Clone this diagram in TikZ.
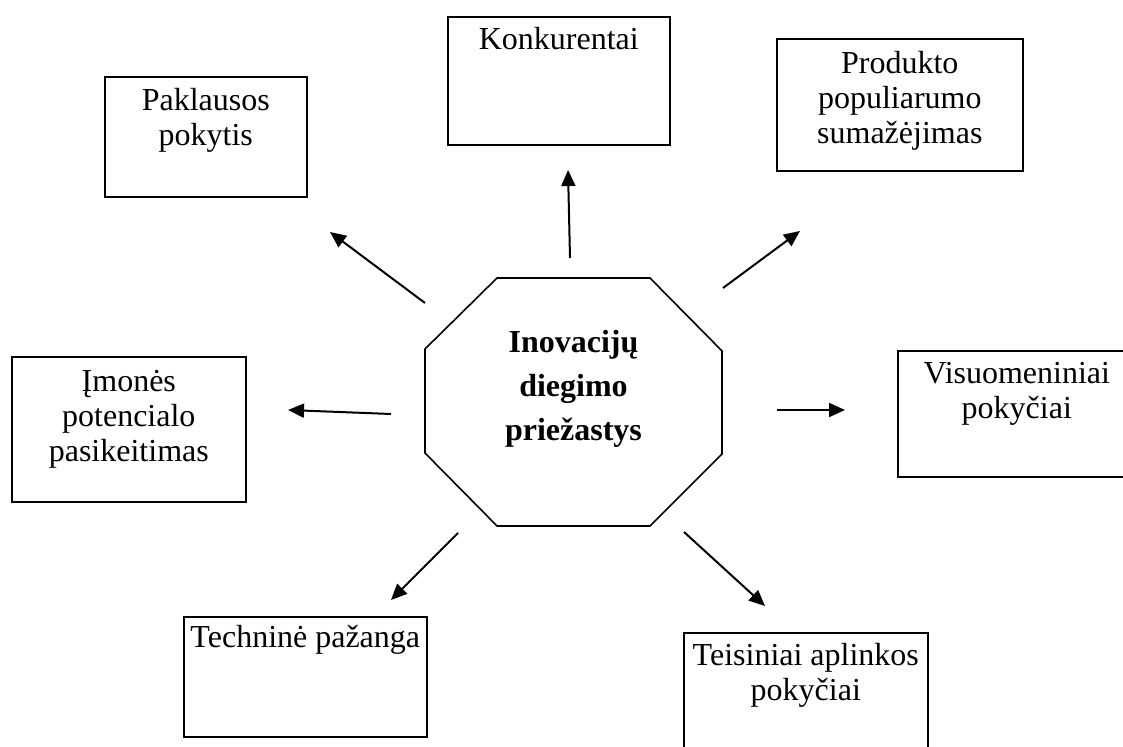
\documentclass[tikz,border=0pt]{standalone}
\usepackage{fontspec}
\setmainfont{Liberation Serif}
\usetikzlibrary{arrows.meta}

\tikzset{
  box/.style={draw, line width=0.8pt, anchor=north west, inner sep=0pt},
  boxtext/.style={anchor=north, inner sep=0pt, align=center, font=\fontsize{16}{17.5}\selectfont},
  arr/.style={line width=1pt, -{Triangle[length=8pt,width=7pt]}},
}

\begin{document}
\begin{tikzpicture}[x=0.5pt,y=0.5pt,yscale=-1,xscale=1]
\path[use as bounding box, fill=white] (0,0) rectangle (1123,747);

%Shape: Octagon
\draw[line width=0.8pt] (497,278) -- (650,278) -- (722,351) -- (722,454) -- (650,526) -- (497,526) -- (425,453) -- (425,349) -- cycle ;
% Text Node
\node[anchor=north, inner sep=0pt, align=center, font=\bfseries\fontsize{16}{22}\selectfont] (center) at (573.5,330) {Inovacijų\\diegimo\\priežastys};

%Shape: Rectangle
\node[box, minimum width=101pt, minimum height=60pt] (pakbox) at (104,76) {};
\node[box, minimum width=111pt, minimum height=64pt] (konbox) at (447,16) {};
\node[box, minimum width=123pt, minimum height=66pt] (probox) at (776,38) {};
\node[box, minimum width=117pt, minimum height=72.5pt] (imobox) at (11,356) {};
\node[box, minimum width=119pt, minimum height=63pt] (visbox) at (897,350) {};
\node[box, minimum width=121.5pt, minimum height=60pt] (tecbox) at (183,616) {};
\node[box, minimum width=122pt, minimum height=69pt] (teibox) at (683,632) {};

% Text Node
\node[boxtext] (paktext) at ([yshift=6pt]pakbox.north) {Paklausos\\pokytis};
\node[boxtext] (kontext) at ([yshift=5.5pt]konbox.north) {Konkurentai};
\node[boxtext] (protext) at ([yshift=6.5pt]probox.north) {Produkto\\populiarumo\\sumažėjimas};
\node[boxtext] (imotext) at ([yshift=7pt]imobox.north) {Įmonės\\potencialo\\pasikeitimas};
\node[boxtext] (vistext) at ([yshift=6pt]visbox.north) {Visuomeniniai\\pokyčiai};
\node[boxtext] (tectext) at ([yshift=4.5pt]tecbox.north) {Techninė pažanga};
\node[boxtext] (teitext) at ([yshift=5.5pt]teibox.north) {Teisiniai aplinkos\\pokyčiai};

%Arrows
\coordinate (pakfrom) at (425,303);
\coordinate (pakto) at (330,232);
\coordinate (konfrom) at (570,258);
\coordinate (konto) at (568,170);
\coordinate (profrom) at (723,288);
\coordinate (proto) at (800,231);
\coordinate (imofrom) at (391,414);
\coordinate (imoto) at (288,410);
\coordinate (visfrom) at (777,410);
\coordinate (visto) at (845,410);
\coordinate (tecfrom) at (458,533);
\coordinate (tecto) at (391,600);
\coordinate (teifrom) at (684,532);
\coordinate (teito) at (765,606);

\draw[arr] (pakfrom) -- (pakto);
\draw[arr] (konfrom) -- (konto);
\draw[arr] (profrom) -- (proto);
\draw[arr] (imofrom) -- (imoto);
\draw[arr] (visfrom) -- (visto);
\draw[arr] (tecfrom) -- (tecto);
\draw[arr] (teifrom) -- (teito);

\end{tikzpicture}
\end{document}
